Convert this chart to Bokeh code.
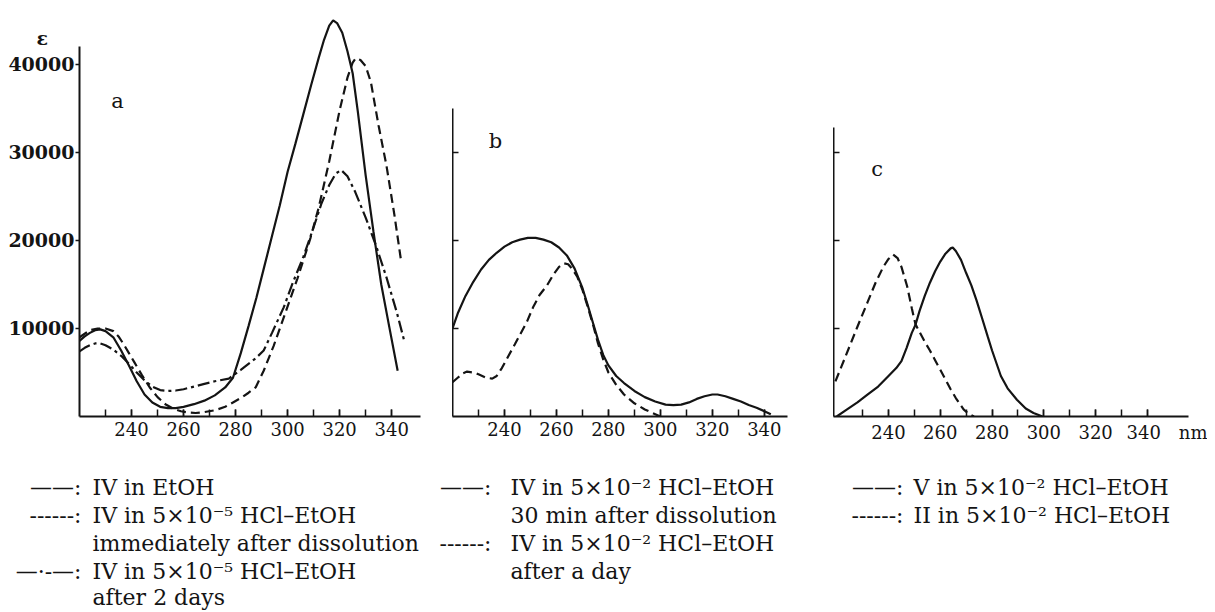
from bokeh.plotting import figure
from bokeh.models import Range1d, FixedTicker, Label
from bokeh.layouts import column, row
from bokeh.embed import file_html
from bokeh.resources import INLINE
from bokeh.core.properties import value

# ---------------- data (wavelength nm, epsilon) ----------------
# Panel a
a_etoh_nm = [220, 222, 224, 226, 228, 230, 233, 236, 239, 242, 245, 248, 251, 254, 257, 260, 264, 268, 272, 276,
             279, 282, 285, 288, 291, 294, 297, 300, 303, 306, 309, 312, 314, 316, 317.5, 319, 321, 323, 325, 327,
             330, 333, 336, 339, 342.3]
a_etoh_eps = [8600, 9100, 9500, 9800, 9900, 9700, 9000, 7500, 5800, 4000, 2500, 1600, 1100, 950, 950, 1100, 1400,
              1800, 2400, 3300, 4400, 7200, 10300, 13500, 17000, 20500, 24000, 27800, 31000, 34300, 37600, 40800,
              42800, 44400, 45000, 44700, 43600, 41500, 39000, 34600, 27400, 21000, 15000, 10300, 5200]

a_imm_nm = [220, 222, 224, 227, 230, 233, 235, 237, 239, 241, 244, 247, 250, 253, 256, 259, 262, 264.6, 268, 272,
            276, 279, 282.6, 285, 287.7, 290.8, 294.6, 297, 300, 303.8, 306, 308.8, 312, 316, 320, 323, 325, 326.2,
            328, 330, 332, 335, 338, 341, 343.7]
a_imm_eps = [9000, 9400, 9800, 10000, 10000, 9700, 9100, 8200, 7200, 6200, 4700, 3300, 2200, 1400, 900, 600, 450,
             400, 500, 700, 1100, 1600, 2200, 2700, 3300, 5200, 8000, 10000, 12500, 15700, 17700, 20300, 23800,
             29000, 34800, 38500, 40200, 40700, 40500, 39800, 38000, 33000, 28500, 23000, 17500]

a_2d_nm = [220, 222, 224, 226, 228, 230, 233, 236, 239, 242, 245, 248, 251, 254, 257, 260, 264, 268, 272, 277.4,
           282, 287.7, 290.8, 294, 298.5, 302, 306, 310, 313, 316, 318.5, 320.6, 323, 326, 330, 334, 338, 342, 345]
a_2d_eps = [7400, 7800, 8100, 8300, 8300, 8100, 7600, 6900, 6000, 5000, 4100, 3400, 3000, 2900, 2950, 3100, 3400,
            3700, 4000, 4300, 5300, 6600, 7500, 9500, 12400, 15200, 18100, 21500, 24200, 26300, 27600, 28000,
            27300, 25500, 22600, 19400, 15800, 11800, 8400]

# Panel b
b_30m_nm = [220, 222, 225, 228, 231, 234, 237, 240, 243, 246, 249, 252, 255, 258, 261, 264, 267, 270, 272, 274.3,
            276, 278, 280, 283, 286, 290, 294, 298, 302, 305, 308, 311, 314, 317, 320, 322, 325, 328, 331, 334,
            337, 340, 342.5]
b_30m_eps = [10000, 11700, 13700, 15300, 16700, 17800, 18600, 19300, 19800, 20100, 20300, 20300, 20100, 19800,
             19200, 18300, 16800, 14600, 12700, 10400, 8700, 7000, 5800, 4600, 3800, 2900, 2200, 1700, 1350, 1300,
             1350, 1600, 2000, 2300, 2500, 2500, 2300, 2000, 1700, 1300, 1000, 600, 250]

b_day_nm = [220, 222, 224, 225.6, 228, 230, 233, 235.3, 237, 239, 241, 244, 246, 248.7, 251, 253.5, 256.4, 259,
            261, 263, 264.5, 266, 268, 270, 272, 274.3, 276, 278, 280, 283, 286, 290, 294, 297, 300]
b_day_eps = [3900, 4400, 4900, 5100, 5000, 4800, 4400, 4300, 4600, 5500, 6600, 8200, 9300, 10800, 12400, 13800,
             14900, 16200, 17000, 17400, 17300, 16800, 15900, 14400, 12500, 10200, 8300, 6500, 5000, 3600, 2500,
             1500, 800, 400, 0]

# Panel c
c_v_nm = [220, 224, 228, 232, 236, 240, 243, 245, 247, 249, 250.4, 252, 254, 256, 258, 260, 262, 264, 264.8, 266,
          268, 270, 272, 274, 276, 278.3, 280, 283.4, 286, 289.6, 293, 296, 299.5]
c_v_eps = [0, 800, 1600, 2500, 3400, 4600, 5500, 6300, 7800, 9500, 10400, 12000, 13700, 15200, 16500, 17600, 18500,
           19100, 19200, 18800, 17800, 16300, 14900, 13200, 11300, 9100, 7500, 4600, 3200, 1900, 900, 400, 0]

c_ii_nm = [219.5, 222, 225, 228, 231.8, 235, 238, 240, 241.8, 243.5, 245, 247.2, 249, 250.4, 252, 254, 256, 258,
           260, 262, 264, 266, 269, 271, 273]
c_ii_eps = [4000, 5800, 8000, 10200, 12900, 15200, 17000, 17900, 18400, 18000, 17000, 14800, 12300, 10500, 9600,
            8500, 7500, 6400, 5300, 4200, 3100, 2100, 800, 300, 0]

# ticks
x_major = [240, 260, 280, 300, 320, 340]
x_minor = [230, 240, 250, 260, 270, 280, 290, 300, 310, 320, 330, 340]
y_major_a = [10000, 20000, 30000, 40000]
y_major_bc = [10000, 20000, 30000]

# legend texts
leg_a = [("——:", "IV in EtOH"),
         ("------:", "IV in 5×10⁻⁵ HCl–EtOH"),
         ("", "immediately after dissolution"),
         ("—·-—:", "IV in 5×10⁻⁵ HCl–EtOH"),
         ("", "after 2 days")]
leg_b = [("——:", "IV in 5×10⁻² HCl–EtOH"),
         ("", "30 min after dissolution"),
         ("------:", "IV in 5×10⁻² HCl–EtOH"),
         ("", "after a day")]
leg_c = [("——:", "V in 5×10⁻² HCl–EtOH"),
         ("------:", "II in 5×10⁻² HCl–EtOH")]

SERIF = "DejaVu Serif"
INK = "#141414"
FRAME_H = 404
Y_END = 45900
FS = "\u2007"  # figure space


def make_panel(x_start, x_end, frame_w, left_b, right_b, x_bounds, y_bounds, y_ticks, y_labels):
    p = figure(frame_width=frame_w, frame_height=FRAME_H,
               x_range=Range1d(x_start, x_end), y_range=Range1d(0, Y_END),
               output_backend="svg", toolbar_location=None,
               min_border_left=left_b, min_border_right=right_b,
               min_border_top=12, min_border_bottom=26)
    p.grid.visible = False
    p.outline_line_color = None
    p.background_fill_color = "white"
    p.border_fill_color = "white"
    xa = p.xaxis[0]
    xa.ticker = FixedTicker(ticks=x_major, minor_ticks=x_minor)
    xa.bounds = x_bounds
    xa.axis_line_width = 2
    xa.axis_line_color = INK
    xa.major_tick_in = 7
    xa.major_tick_out = 0
    xa.minor_tick_in = 7
    xa.minor_tick_out = 0
    xa.major_tick_line_color = INK
    xa.minor_tick_line_color = INK
    xa.major_tick_line_width = 1.5
    xa.minor_tick_line_width = 1.5
    xa.major_label_standoff = 5
    xa.major_label_text_font = SERIF
    xa.major_label_text_font_size = "18px"
    xa.major_label_text_color = INK
    ya = p.yaxis[0]
    ya.ticker = FixedTicker(ticks=y_ticks, minor_ticks=[])
    ya.bounds = y_bounds
    ya.axis_line_width = 2
    ya.axis_line_color = INK
    ya.major_tick_line_color = INK
    ya.major_tick_line_width = 1.5
    if y_labels:
        ya.major_tick_in = 0
        ya.major_tick_out = 4
        ya.major_label_standoff = 1
        ya.major_label_text_font = SERIF
        ya.major_label_text_font_size = "19px"
        ya.major_label_text_color = INK
        ya.major_label_text_font_style = "bold"
    else:
        ya.major_tick_in = 6
        ya.major_tick_out = 0
        ya.major_label_standoff = 0
        ya.major_label_text_font_size = "0px"
        ya.major_label_text_alpha = 0
    return p


# panel a  (page x: frame 79 .. 425)
pa = make_panel(220, 353, 346, 79, 27, (220, 351), (0, 42000), y_major_a, True)
pa.yaxis[0].major_label_overrides = {40000: "ε" + FS * 2 + "\n40000\n" + FS}
pa.line(a_etoh_nm, a_etoh_eps, line_color=INK, line_width=2.2)
pa.line(a_imm_nm, a_imm_eps, line_color=INK, line_width=2.2, line_dash="9 5")
pa.line(a_2d_nm, a_2d_eps, line_color=INK, line_width=2.2, line_dash="12 4 3 4")
pa.add_layout(Label(x=234.6, y=35900, text="a", text_font=SERIF, text_font_size="21px",
                    text_align="center", text_baseline="middle", text_color=INK))

# panel b  (page x: frame 452 .. 795)
pb = make_panel(220, 352, 343, 0, 38, (220, 349), (0, 35000), y_major_bc, False)
pb.line(b_30m_nm, b_30m_eps, line_color=INK, line_width=2.2)
pb.line(b_day_nm, b_day_eps, line_color=INK, line_width=2.2, line_dash="9 5")
pb.add_layout(Label(x=236.5, y=31300, text="b", text_font=SERIF, text_font_size="21px",
                    text_align="center", text_baseline="middle", text_color=INK))

# panel c  (page x: frame 833 .. 1207)
pc = make_panel(218.76, 363.2, 374, 0, 0, (218.76, 355.8), (0, 32800), y_major_bc, False)
pc.xaxis[0].major_label_overrides = {340: FS * 4 + "\u2009340\u2003nm"}
pc.line(c_v_nm, c_v_eps, line_color=INK, line_width=2.2)
pc.line(c_ii_nm, c_ii_eps, line_color=INK, line_width=2.2, line_dash="9 5")
pc.add_layout(Label(x=235.6, y=28100, text="c", text_font=SERIF, text_font_size="21px",
                    text_align="center", text_baseline="middle", text_color=INK))

# legend area (page coordinates)
pl = figure(width=1207, height=166, x_range=Range1d(0, 1207), y_range=Range1d(608, 442),
            output_backend="svg", toolbar_location=None, min_border=0)
pl.axis.visible = False
pl.grid.visible = False
pl.outline_line_color = None

rows_y = [484, 512, 540, 568, 594]
cols = [(leg_a, 81, 92), (leg_b, 491, 510), (leg_c, 903, 913)]
sx, sy, st, tx, ty, tt = [], [], [], [], [], []
for entries, sample_right, text_left in cols:
    for i, (sample, txt) in enumerate(entries):
        if sample:
            sx.append(sample_right)
            sy.append(rows_y[i])
            st.append(sample)
        tx.append(text_left)
        ty.append(rows_y[i])
        tt.append(txt)

pl.text(x=sx, y=sy, text=st, text_font=value(SERIF), text_font_size="22px", text_align="right",
        text_baseline="middle", text_color=INK)
pl.text(x=tx, y=ty, text=tt, text_font=value(SERIF), text_font_size="22px", text_align="left",
        text_baseline="middle", text_color=INK)

layout = column(row(pa, pb, pc, spacing=0), pl, spacing=0)

open("out.html", "w").write(file_html(layout, INLINE))
